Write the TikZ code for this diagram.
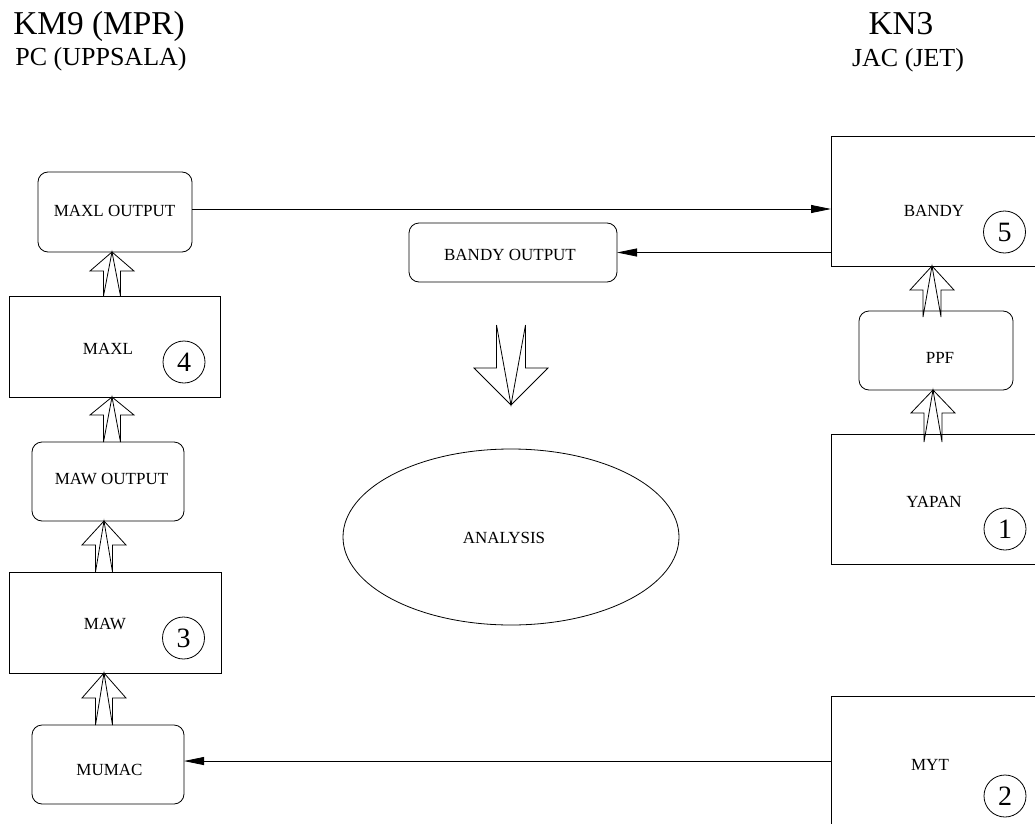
\documentclass[tikz,border=0pt]{standalone}
\usepackage{fontspec}
\setmainfont{Liberation Serif}
\usetikzlibrary{arrows.meta,calc,shapes.geometric}
\newcommand\fatarr[5]{% #1 base, #2 tip, #3 shaft half width, #4 head half width, #5 signed head length
  \draw[fat] let \p1=#1, \p2=#2 in
    (\x2-#3,\y1) -- (\x2-#3,{\y2+(#5)}) -- (\x2-#4,{\y2+(#5)}) -- (\x2,\y2)
    -- (\x2+#4,{\y2+(#5)}) -- (\x2+#3,{\y2+(#5)}) -- (\x2+#3,\y1)
    (\x2-#3,\y1) -- (\x2,\y2) -- (\x2+#3,\y1);
}
\begin{document}
\begin{tikzpicture}[x=0.75pt,y=-0.75pt,
  every node/.style={inner sep=0pt, outer sep=0pt},
  sqbox/.style={draw, line width=0.6pt},
  rbox/.style={draw, line width=0.6pt, rounded corners=7.5pt},
  lbl/.style={font=\fontsize{12.75}{15}\selectfont},
  num/.style={draw, circle, line width=0.6pt, minimum size=31.5pt, font=\fontsize{21}{24}\selectfont},
  bigt/.style={anchor=base, font=\fontsize{25}{30}\selectfont},
  subt/.style={anchor=base, font=\fontsize{19.5}{23}\selectfont},
  conn/.style={line width=0.6pt, -{Triangle[length=15pt,width=6pt]}},
  fat/.style={line width=0.6pt, line join=miter}]
\useasboundingbox (0,0) rectangle (1035,824);

% titles
\node[bigt] (t1) at (99,35) {KM9 (MPR)};
\node[subt] (t2) at (101,65) {PC (UPPSALA)};
\node[bigt] (t3) at (901,35) {KN3};
\node[subt] (t4) at (908,67) {JAC (JET)};

% left column
\node[rbox, minimum width=115.5pt, minimum height=60pt] (maxlout) at (115,212) {};
\node[lbl] (maxloutl) at (114.5,211) {MAXL OUTPUT};
\node[sqbox, minimum width=158.25pt, minimum height=75.75pt] (maxl) at (114.5,346.5) {};
\node[lbl] (maxll) at (108,349) {MAXL};
\node[num] (n4) at (184,362) {4};
\node[rbox, minimum width=114pt, minimum height=59.25pt] (mawout) at (108,481.5) {};
\node[lbl] (mawoutl) at (111.5,479) {MAW OUTPUT};
\node[sqbox, minimum width=159pt, minimum height=75.75pt] (maw) at (115,622.5) {};
\node[lbl] (mawl) at (105,624.5) {MAW};
\node[num] (n3) at (183.5,638) {3};
\node[rbox, minimum width=114pt, minimum height=59.25pt] (mumac) at (108,764.5) {};
\node[lbl] (mumacl) at (109.5,770) {MUMAC};

% middle
\node[rbox, minimum width=156pt, minimum height=44.25pt] (bout) at (513,252.5) {};
\node[lbl] (boutl) at (510,255) {BANDY OUTPUT};
\node[draw, ellipse, line width=0.6pt, minimum width=252pt, minimum height=132pt] (ana) at (511,537) {};
\node[lbl] (anal) at (504,538) {ANALYSIS};

% right column
\node[sqbox, minimum width=160.5pt, minimum height=97.5pt] (bandy) at (938,201) {};
\node[lbl] (bandyl) at (934,211) {BANDY};
\node[num] (n5) at (1004.5,232) {5};
\node[rbox, minimum width=115.5pt, minimum height=59.25pt] (ppf) at (936,350.5) {};
\node[lbl] (ppfl) at (940,357.5) {PPF};
\node[sqbox, minimum width=160.5pt, minimum height=97.5pt] (yapan) at (938,499) {};
\node[lbl] (yapanl) at (934,502) {YAPAN};
\node[num] (n1) at (1005,529) {1};
\node[sqbox, minimum width=160.5pt, minimum height=108pt] (myt) at (938,768) {};
\node[lbl] (mytl) at (930,764.5) {MYT};
\node[num] (n2) at (1005,796) {2};

% thin connectors
\draw[conn] ([yshift=2.25pt]maxlout.east) -- ([yshift=2.25pt]maxlout.east -| bandy.west);
\draw[conn] (bandy.west |- bout.east) -- (bout.east);
\draw[conn] ([yshift=2.6pt]myt.west |- mumac.east) -- ([yshift=2.6pt]mumac.east);

% hollow arrows
\fatarr{([xshift=-1.875pt]maxl.north)}{([xshift=-2.25pt]maxlout.south)}{6.375pt}{16.5pt}{-14.25pt}
\fatarr{([xshift=3pt]mawout.north)}{([xshift=-1.875pt]maxl.south)}{6.375pt}{16.5pt}{-13.5pt}
\fatarr{([xshift=-8.25pt]maw.north)}{([xshift=-3pt]mawout.south)}{6.375pt}{16.5pt}{-18pt}
\fatarr{([xshift=-3pt]mumac.north)}{([xshift=-8.25pt]maw.south)}{6.375pt}{16.5pt}{-18.75pt}
\fatarr{([xshift=-3pt,yshift=-4.5pt]ppf.north)}{([xshift=-4.5pt]bandy.south)}{6.75pt}{16.5pt}{-18pt}
\fatarr{([xshift=-4.5pt,yshift=-6pt]yapan.north)}{([xshift=-2.25pt]ppf.south)}{6.75pt}{16.5pt}{-17.25pt}
\fatarr{($(bout.south)+(-2,43)$)}{($(bout.south)+(-2,123)$)}{10.875pt}{27.75pt}{27.75pt}
\end{tikzpicture}
\end{document}
